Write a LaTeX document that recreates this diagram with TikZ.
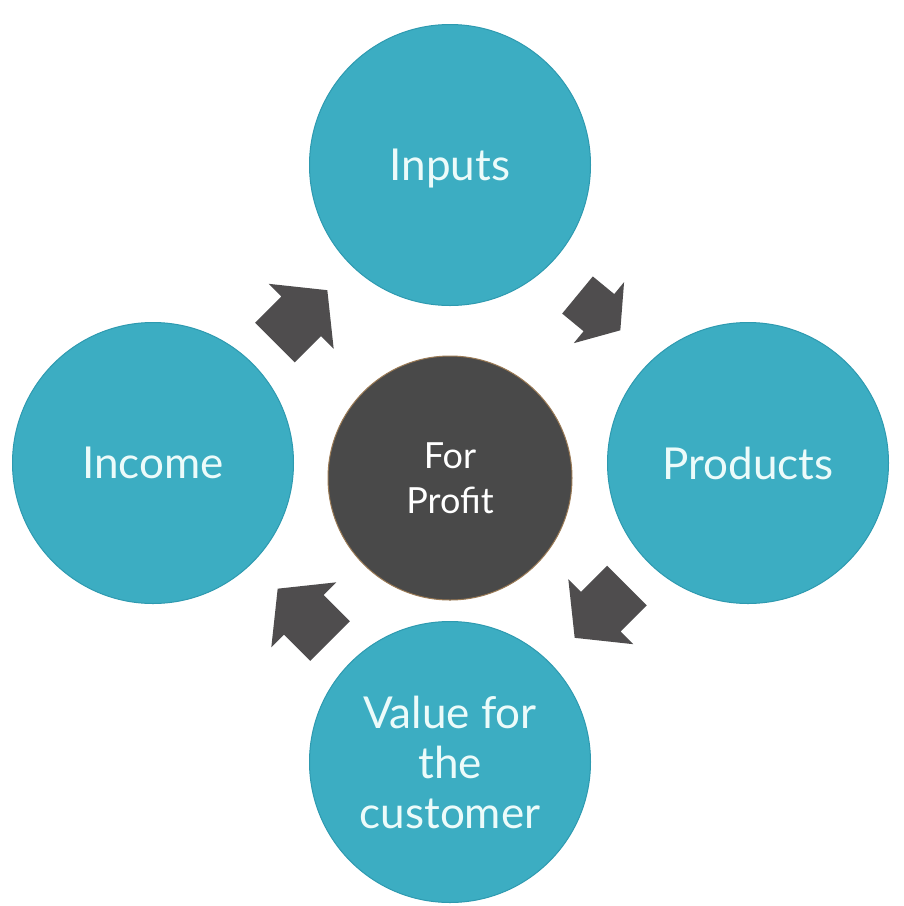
\documentclass[tikz,border=0pt]{standalone}
\usepackage{fontspec}
\setmainfont{Lato}
\definecolor{teal1}{HTML}{3CADC2}
\definecolor{tealedge}{HTML}{2E9AB0}
\definecolor{darkc}{HTML}{494949}
\definecolor{darkedge}{HTML}{9A7A55}
\definecolor{arrowgray}{HTML}{4F4D4E}
\definecolor{txt}{HTML}{ECFBFA}
\tikzset{
  bubble/.style={circle, fill=teal1, draw=tealedge, line width=1pt, inner sep=0pt,
    minimum size=281pt, text=txt, font=\fontsize{44}{50}\selectfont, align=center},
  hub/.style={circle, fill=darkc, draw=darkedge, line width=1pt, inner sep=0pt,
    minimum size=244pt, text=white, font=\fontsize{36}{45}\selectfont, align=center},
  blockarr/.pic={\fill[arrowgray] (0,-28)--(37,-28)--(37,-46)--(74,0)--(37,46)--(37,28)--(0,28)--cycle;}
}
\begin{document}
\begin{tikzpicture}[x=1pt,y=-1pt]
\useasboundingbox (0,0) rectangle (904,906);
\fill[white] (0,0) rectangle (904,906);
\node[bubble] (inputs) at (450,165) {};
\node[text=txt, font=\fontsize{44}{50}\selectfont] (inputslabel) at (450,169) {Inputs};
\node[bubble] (income) at (153,463) {Income};
\node[bubble] (products) at (748,463) {Products};
\node[bubble] (value) at (450,762) {Value for\\the\\customer};
\node[hub] (hub) at (450,478) {For\\Profit};
\coordinate (a1) at (275,342.5);
\coordinate (a2) at (577.5,295);
\coordinate (a3) at (627,585.5);
\coordinate (a4) at (330,641);
\pic[rotate=45] at (a1) {blockarr};
\pic[rotate=-39.5,xscale=0.75,yscale=0.86] at (a2) {blockarr};
\pic[rotate=225] at (a3) {blockarr};
\pic[rotate=135] at (a4) {blockarr};
\end{tikzpicture}
\end{document}
